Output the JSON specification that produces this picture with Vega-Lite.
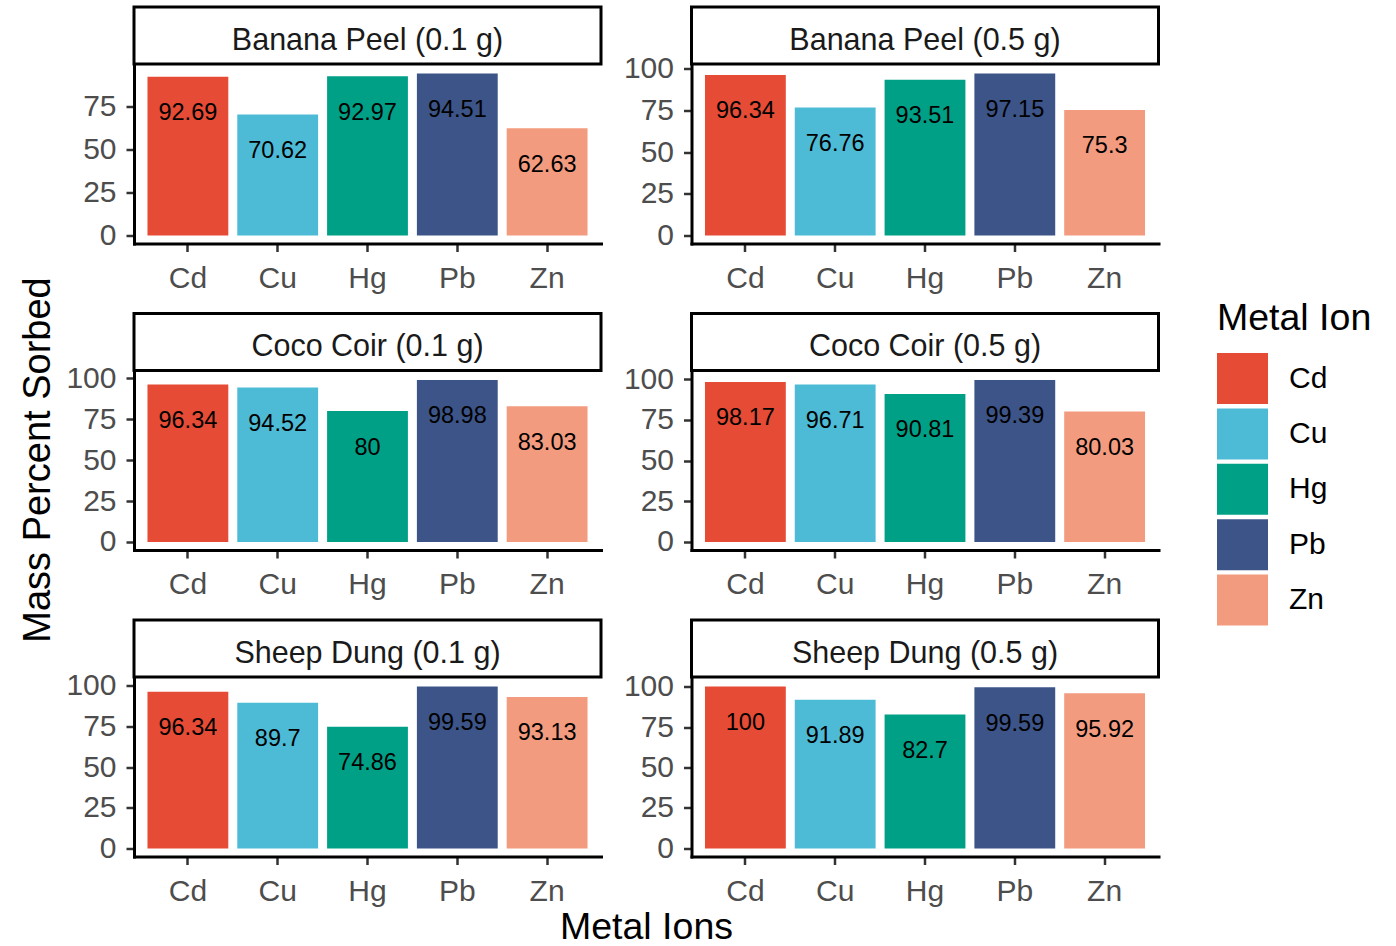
{
  "$schema": "https://vega.github.io/schema/vega-lite/v6.json",
  "datasets": {
    "sorb": [
      {"panel": "Banana Peel (0.1 g)", "metal": "Cd", "value": 92.69},
      {"panel": "Banana Peel (0.1 g)", "metal": "Cu", "value": 70.62},
      {"panel": "Banana Peel (0.1 g)", "metal": "Hg", "value": 92.97},
      {"panel": "Banana Peel (0.1 g)", "metal": "Pb", "value": 94.51},
      {"panel": "Banana Peel (0.1 g)", "metal": "Zn", "value": 62.63},
      {"panel": "Banana Peel (0.5 g)", "metal": "Cd", "value": 96.34},
      {"panel": "Banana Peel (0.5 g)", "metal": "Cu", "value": 76.76},
      {"panel": "Banana Peel (0.5 g)", "metal": "Hg", "value": 93.51},
      {"panel": "Banana Peel (0.5 g)", "metal": "Pb", "value": 97.15},
      {"panel": "Banana Peel (0.5 g)", "metal": "Zn", "value": 75.3},
      {"panel": "Coco Coir (0.1 g)", "metal": "Cd", "value": 96.34},
      {"panel": "Coco Coir (0.1 g)", "metal": "Cu", "value": 94.52},
      {"panel": "Coco Coir (0.1 g)", "metal": "Hg", "value": 80},
      {"panel": "Coco Coir (0.1 g)", "metal": "Pb", "value": 98.98},
      {"panel": "Coco Coir (0.1 g)", "metal": "Zn", "value": 83.03},
      {"panel": "Coco Coir (0.5 g)", "metal": "Cd", "value": 98.17},
      {"panel": "Coco Coir (0.5 g)", "metal": "Cu", "value": 96.71},
      {"panel": "Coco Coir (0.5 g)", "metal": "Hg", "value": 90.81},
      {"panel": "Coco Coir (0.5 g)", "metal": "Pb", "value": 99.39},
      {"panel": "Coco Coir (0.5 g)", "metal": "Zn", "value": 80.03},
      {"panel": "Sheep Dung (0.1 g)", "metal": "Cd", "value": 96.34},
      {"panel": "Sheep Dung (0.1 g)", "metal": "Cu", "value": 89.7},
      {"panel": "Sheep Dung (0.1 g)", "metal": "Hg", "value": 74.86},
      {"panel": "Sheep Dung (0.1 g)", "metal": "Pb", "value": 99.59},
      {"panel": "Sheep Dung (0.1 g)", "metal": "Zn", "value": 93.13},
      {"panel": "Sheep Dung (0.5 g)", "metal": "Cd", "value": 100},
      {"panel": "Sheep Dung (0.5 g)", "metal": "Cu", "value": 91.89},
      {"panel": "Sheep Dung (0.5 g)", "metal": "Hg", "value": 82.7},
      {"panel": "Sheep Dung (0.5 g)", "metal": "Pb", "value": 99.59},
      {"panel": "Sheep Dung (0.5 g)", "metal": "Zn", "value": 95.92}
    ]
  },
  "data": {"name": "sorb"},
  "autosize": {"type": "pad"},
  "padding": {"left": 20, "top": 5, "right": 5, "bottom": 0},
  "title": {"text": "Mass Percent Sorbed", "orient": "left", "anchor": "middle", "offset": 7.5, "dx": 16, "fontSize": 38, "font": "Liberation Sans", "fontWeight": "normal", "color": "black"},
  "spacing": 18.5,
  "vconcat": [
    {
      "spacing": 19.5,
      "hconcat": [
        {
          "spacing": 1.5, "bounds": "flush",
          "vconcat": [
            {"width": 467, "height": 57, "view": {"stroke": "black", "strokeWidth": 3, "fill": "white"},
             "transform": [{"filter": "datum.panel === 'Banana Peel (0.1 g)'"}, {"aggregate": [{"op": "count", "as": "n"}], "groupby": ["panel"]}],
             "mark": {"type": "text", "fontSize": 30.5, "color": "#1a1a1a", "dy": 5, "baseline": "middle"},
             "encoding": {"text": {"field": "panel", "type": "nominal"}}},
            {"width": 467, "height": 178,
             "transform": [{"filter": "datum.panel === 'Banana Peel (0.1 g)'"}],
             "encoding": {
               "x": {"field": "metal", "type": "nominal", "title": null, "scale": {"paddingInner": 0.1, "paddingOuter": 0.15}},
               "y": {"field": "value", "type": "quantitative", "title": null, "scale": {"domain": [-4.7255, 99.2355], "nice": false, "zero": false}, "axis": {"values": [0, 25, 50, 75]}}
             },
             "layer": [
               {"mark": {"type": "bar"}, "encoding": {"y2": {"datum": 0}, "color": {"field": "metal", "type": "nominal", "title": "Metal Ion", "scale": {"domain": ["Cd", "Cu", "Hg", "Pb", "Zn"], "range": ["#E64B35", "#4DBBD5", "#00A087", "#3C5488", "#F39B7F"]}}}},
               {"mark": {"type": "text", "fontSize": 23.5, "color": "black", "baseline": "middle", "dy": 36.4}, "encoding": {"text": {"field": "value", "type": "quantitative"}}}
             ]}
          ]
        },
        {
          "spacing": 1.5, "bounds": "flush",
          "vconcat": [
            {"width": 467, "height": 57, "view": {"stroke": "black", "strokeWidth": 3, "fill": "white"},
             "transform": [{"filter": "datum.panel === 'Banana Peel (0.5 g)'"}, {"aggregate": [{"op": "count", "as": "n"}], "groupby": ["panel"]}],
             "mark": {"type": "text", "fontSize": 30.5, "color": "#1a1a1a", "dy": 5, "baseline": "middle"},
             "encoding": {"text": {"field": "panel", "type": "nominal"}}},
            {"width": 467, "height": 178,
             "transform": [{"filter": "datum.panel === 'Banana Peel (0.5 g)'"}],
             "encoding": {
               "x": {"field": "metal", "type": "nominal", "title": null, "scale": {"paddingInner": 0.1, "paddingOuter": 0.15}},
               "y": {"field": "value", "type": "quantitative", "title": null, "scale": {"domain": [-4.8575, 102.0075], "nice": false, "zero": false}, "axis": {"values": [0, 25, 50, 75, 100]}}
             },
             "layer": [
               {"mark": {"type": "bar"}, "encoding": {"y2": {"datum": 0}, "color": {"field": "metal", "type": "nominal", "title": "Metal Ion", "scale": {"domain": ["Cd", "Cu", "Hg", "Pb", "Zn"], "range": ["#E64B35", "#4DBBD5", "#00A087", "#3C5488", "#F39B7F"]}}}},
               {"mark": {"type": "text", "fontSize": 23.5, "color": "black", "baseline": "middle", "dy": 36.4}, "encoding": {"text": {"field": "value", "type": "quantitative"}}}
             ]}
          ]
        }
      ]
    },
    {
      "spacing": 19.5,
      "hconcat": [
        {
          "spacing": 1.5, "bounds": "flush",
          "vconcat": [
            {"width": 467, "height": 57, "view": {"stroke": "black", "strokeWidth": 3, "fill": "white"},
             "transform": [{"filter": "datum.panel === 'Coco Coir (0.1 g)'"}, {"aggregate": [{"op": "count", "as": "n"}], "groupby": ["panel"]}],
             "mark": {"type": "text", "fontSize": 30.5, "color": "#1a1a1a", "dy": 5, "baseline": "middle"},
             "encoding": {"text": {"field": "panel", "type": "nominal"}}},
            {"width": 467, "height": 178,
             "transform": [{"filter": "datum.panel === 'Coco Coir (0.1 g)'"}],
             "encoding": {
               "x": {"field": "metal", "type": "nominal", "title": null, "scale": {"paddingInner": 0.1, "paddingOuter": 0.15}},
               "y": {"field": "value", "type": "quantitative", "title": null, "scale": {"domain": [-4.949, 103.929], "nice": false, "zero": false}, "axis": {"values": [0, 25, 50, 75, 100]}}
             },
             "layer": [
               {"mark": {"type": "bar"}, "encoding": {"y2": {"datum": 0}, "color": {"field": "metal", "type": "nominal", "title": "Metal Ion", "scale": {"domain": ["Cd", "Cu", "Hg", "Pb", "Zn"], "range": ["#E64B35", "#4DBBD5", "#00A087", "#3C5488", "#F39B7F"]}}}},
               {"mark": {"type": "text", "fontSize": 23.5, "color": "black", "baseline": "middle", "dy": 36.4}, "encoding": {"text": {"field": "value", "type": "quantitative"}}}
             ]}
          ]
        },
        {
          "spacing": 1.5, "bounds": "flush",
          "vconcat": [
            {"width": 467, "height": 57, "view": {"stroke": "black", "strokeWidth": 3, "fill": "white"},
             "transform": [{"filter": "datum.panel === 'Coco Coir (0.5 g)'"}, {"aggregate": [{"op": "count", "as": "n"}], "groupby": ["panel"]}],
             "mark": {"type": "text", "fontSize": 30.5, "color": "#1a1a1a", "dy": 5, "baseline": "middle"},
             "encoding": {"text": {"field": "panel", "type": "nominal"}}},
            {"width": 467, "height": 178,
             "transform": [{"filter": "datum.panel === 'Coco Coir (0.5 g)'"}],
             "encoding": {
               "x": {"field": "metal", "type": "nominal", "title": null, "scale": {"paddingInner": 0.1, "paddingOuter": 0.15}},
               "y": {"field": "value", "type": "quantitative", "title": null, "scale": {"domain": [-4.9695, 104.3595], "nice": false, "zero": false}, "axis": {"values": [0, 25, 50, 75, 100]}}
             },
             "layer": [
               {"mark": {"type": "bar"}, "encoding": {"y2": {"datum": 0}, "color": {"field": "metal", "type": "nominal", "title": "Metal Ion", "scale": {"domain": ["Cd", "Cu", "Hg", "Pb", "Zn"], "range": ["#E64B35", "#4DBBD5", "#00A087", "#3C5488", "#F39B7F"]}}}},
               {"mark": {"type": "text", "fontSize": 23.5, "color": "black", "baseline": "middle", "dy": 36.4}, "encoding": {"text": {"field": "value", "type": "quantitative"}}}
             ]}
          ]
        }
      ]
    },
    {
      "spacing": 19.5,
      "title": {"text": "Metal Ions", "orient": "bottom", "anchor": "start", "frame": "group", "align": "center", "dx": 512.5, "offset": 3, "fontSize": 37.5, "font": "Liberation Sans", "fontWeight": "normal", "color": "black"},
      "hconcat": [
        {
          "spacing": 1.5, "bounds": "flush",
          "vconcat": [
            {"width": 467, "height": 57, "view": {"stroke": "black", "strokeWidth": 3, "fill": "white"},
             "transform": [{"filter": "datum.panel === 'Sheep Dung (0.1 g)'"}, {"aggregate": [{"op": "count", "as": "n"}], "groupby": ["panel"]}],
             "mark": {"type": "text", "fontSize": 30.5, "color": "#1a1a1a", "dy": 5, "baseline": "middle"},
             "encoding": {"text": {"field": "panel", "type": "nominal"}}},
            {"width": 467, "height": 178,
             "transform": [{"filter": "datum.panel === 'Sheep Dung (0.1 g)'"}],
             "encoding": {
               "x": {"field": "metal", "type": "nominal", "title": null, "scale": {"paddingInner": 0.1, "paddingOuter": 0.15}},
               "y": {"field": "value", "type": "quantitative", "title": null, "scale": {"domain": [-4.9795, 104.5695], "nice": false, "zero": false}, "axis": {"values": [0, 25, 50, 75, 100]}}
             },
             "layer": [
               {"mark": {"type": "bar"}, "encoding": {"y2": {"datum": 0}, "color": {"field": "metal", "type": "nominal", "title": "Metal Ion", "scale": {"domain": ["Cd", "Cu", "Hg", "Pb", "Zn"], "range": ["#E64B35", "#4DBBD5", "#00A087", "#3C5488", "#F39B7F"]}}}},
               {"mark": {"type": "text", "fontSize": 23.5, "color": "black", "baseline": "middle", "dy": 36.4}, "encoding": {"text": {"field": "value", "type": "quantitative"}}}
             ]}
          ]
        },
        {
          "spacing": 1.5, "bounds": "flush",
          "vconcat": [
            {"width": 467, "height": 57, "view": {"stroke": "black", "strokeWidth": 3, "fill": "white"},
             "transform": [{"filter": "datum.panel === 'Sheep Dung (0.5 g)'"}, {"aggregate": [{"op": "count", "as": "n"}], "groupby": ["panel"]}],
             "mark": {"type": "text", "fontSize": 30.5, "color": "#1a1a1a", "dy": 5, "baseline": "middle"},
             "encoding": {"text": {"field": "panel", "type": "nominal"}}},
            {"width": 467, "height": 178,
             "transform": [{"filter": "datum.panel === 'Sheep Dung (0.5 g)'"}],
             "encoding": {
               "x": {"field": "metal", "type": "nominal", "title": null, "scale": {"paddingInner": 0.1, "paddingOuter": 0.15}},
               "y": {"field": "value", "type": "quantitative", "title": null, "scale": {"domain": [-5, 105], "nice": false, "zero": false}, "axis": {"values": [0, 25, 50, 75, 100]}}
             },
             "layer": [
               {"mark": {"type": "bar"}, "encoding": {"y2": {"datum": 0}, "color": {"field": "metal", "type": "nominal", "title": "Metal Ion", "scale": {"domain": ["Cd", "Cu", "Hg", "Pb", "Zn"], "range": ["#E64B35", "#4DBBD5", "#00A087", "#3C5488", "#F39B7F"]}}}},
               {"mark": {"type": "text", "fontSize": 23.5, "color": "black", "baseline": "middle", "dy": 36.4}, "encoding": {"text": {"field": "value", "type": "quantitative"}}}
             ]}
          ]
        }
      ]
    }
  ],
  "config": {
    "font": "Liberation Sans",
    "view": {"stroke": null},
    "axis": {"grid": false, "domainColor": "black", "domainWidth": 3, "domainCap": "square", "tickColor": "#333333", "tickWidth": 2.5, "tickSize": 8, "labelFont": "Liberation Sans", "labelFontSize": 30, "labelColor": "#4d4d4d", "titleFont": "Liberation Sans", "titleFontSize": 38, "titleFontWeight": "normal", "titleColor": "black"},
    "axisX": {"labelAngle": 0, "labelPadding": 11.5},
    "axisY": {"labelPadding": 10},
    "legend": {"orient": "none", "legendX": 1083, "legendY": 292.5, "padding": 0, "titleFont": "Liberation Sans", "titleFontSize": 37.5, "titleFontWeight": "normal", "titleColor": "black", "titlePadding": 16, "labelFont": "Liberation Sans", "labelFontSize": 30, "labelColor": "black", "symbolType": "square", "symbolSize": 2601, "symbolStrokeWidth": 0, "symbolOpacity": 1, "rowPadding": 4.4, "labelOffset": 21}
  }
}
